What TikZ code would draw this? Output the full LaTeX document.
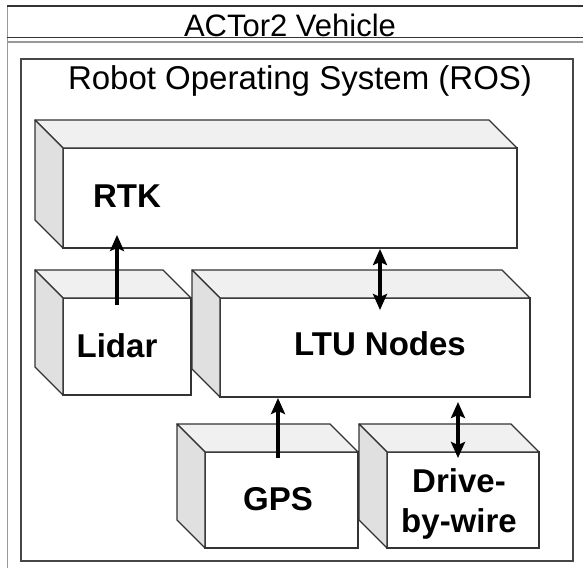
\documentclass[tikz,border=0pt]{standalone}
\usepackage{fontspec}
\setmainfont{Liberation Sans}
\usetikzlibrary{calc,arrows.meta}
\definecolor{edge}{HTML}{333333}
\definecolor{topc}{HTML}{F0F0F0}
\definecolor{sidec}{HTML}{E0E0E0}
\definecolor{outerc}{HTML}{999999}
\newcommand\cubefaces[1]{%
  \draw[topface] (#1.north west) -- ++(-28,-28) -- ($(#1.north east)+(-28,-28)$) -- (#1.north east) -- cycle;
  \draw[sideface] (#1.north west) -- ++(-28,-28) -- ($(#1.south west)+(-28,-28)$) -- (#1.south west) -- cycle;}
\begin{document}
\begin{tikzpicture}[x=1pt,y=-1pt,
  front/.style={draw=edge,fill=white,line width=1.3pt,inner sep=0pt,outer sep=0pt},
  topface/.style={draw=edge,fill=topc,line width=1.3pt,line join=round},
  sideface/.style={draw=edge,fill=sidec,line width=1.3pt,line join=round},
  lbl/.style={font=\fontsize{33}{40}\selectfont\bfseries,inner sep=0pt,anchor=base},
  title/.style={inner sep=0pt,anchor=base},
  tipa/.tip={Stealth[length=16pt,width=14pt,inset=3pt]},
  arr/.style={line width=3.6pt,-tipa},
  darr/.style={line width=3.6pt,tipa-tipa}]
\useasboundingbox (0,0) rectangle (583,567);
\clip (0,0) rectangle (583,567);
\fill[white] (0,0) rectangle (583,567);
% outer container (ACTor2 Vehicle)
\draw[outerc,line width=1pt] (7,620) -- (7,6);
\draw[edge,line width=1.2pt] (7,6) -- (620,6);
\draw[edge,line width=1pt] (7,38) -- (620,38);
\draw[outerc,line width=1.8pt] (7,42) -- (620,42);
\node[title,font=\fontsize{31}{36}\selectfont] (vehtitle) at (290,37) {ACTor2 Vehicle};
% ROS container
\node[draw=edge!90,line width=1.5pt,inner sep=0pt,outer sep=0pt,minimum width=552pt,minimum height=502pt] (ros) at (297,310) {};
\node[title,font=\fontsize{33}{38}\selectfont] (rostitle) at (300,90) {Robot Operating System (ROS)};
% cubes
\node[front,minimum width=454pt,minimum height=100pt] (rtk) at (290,198) {};
\cubefaces{rtk}
\node[front,minimum width=128pt,minimum height=97pt] (lidar) at (127,346.5) {};
\cubefaces{lidar}
\node[front,minimum width=310pt,minimum height=99pt] (ltu) at (375,347.5) {};
\cubefaces{ltu}
\node[front,minimum width=153pt,minimum height=96pt] (gps) at (281.5,500) {};
\cubefaces{gps}
\node[front,minimum width=152pt,minimum height=96pt] (dbw) at (463,500) {};
\cubefaces{dbw}
% labels
\node[lbl] (rtkl) at (127,207) {RTK};
\node[lbl] (lidarl) at (117,357) {Lidar};
\node[lbl] (ltul) at (380,355) {LTU Nodes};
\node[lbl] (gpsl) at (278,510) {GPS};
\node[lbl] (dbwl1) at (459,492) {Drive-};
\node[lbl] (dbwl2) at (459,532) {by-wire};
% connectors
\draw[arr] ($(lidar.north)+(-10,7)$) -- ($(lidar.north |- rtk.south)+(-10,-13)$);
\draw[darr] ($(ltu.north)+(5,12)$) -- ($(ltu.north |- rtk.south)+(5,1)$);
\draw[arr] ($(gps.north)+(-3.5,6)$) -- ($(gps.north |- ltu.south)+(-3.5,1)$);
\draw[darr] ($(dbw.north)+(-5,6)$) -- ($(dbw.north |- ltu.south)+(-5,5)$);
\end{tikzpicture}
\end{document}
